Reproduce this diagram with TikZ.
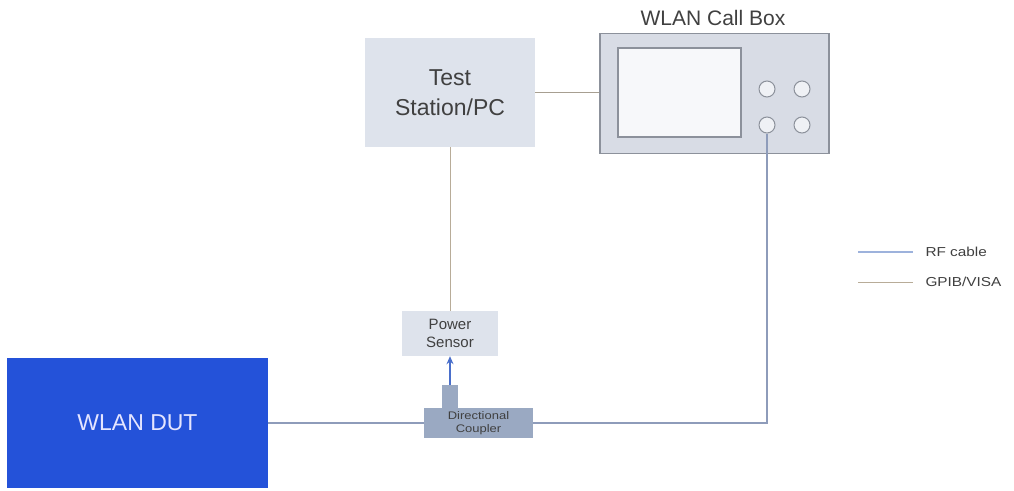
\documentclass[tikz,border=0pt]{standalone}
\usepackage{fontspec}
\setmainfont{Liberation Sans}
\newfontfamily\widefont[FakeStretch=1.18]{Liberation Sans}
\usetikzlibrary{arrows.meta}
\definecolor{boxfill}{HTML}{DEE3EC}
\definecolor{callfill}{HTML}{D8DCE5}
\definecolor{callline}{HTML}{8C919B}
\definecolor{dutblue}{HTML}{2452D9}
\definecolor{rfblue}{HTML}{8E9CBA}
\definecolor{rflegend}{HTML}{9DB2DC}
\definecolor{arrowblue}{HTML}{4A6FCB}
\definecolor{gpib}{HTML}{B8AC98}
\definecolor{coupler}{HTML}{9AA9C2}
\definecolor{txt}{HTML}{404040}
\tikzset{
  lbox/.style={fill=boxfill, draw=none, inner sep=0pt, text=txt, align=center},
  rf/.style={draw=rfblue, line width=1.1pt},
  gp/.style={draw=gpib, line width=1pt},
}
\begin{document}
\begin{tikzpicture}[x=1pt,y=-1pt]
\useasboundingbox (0,0) rectangle (1014,490);
% call box
\node[text=txt, font=\fontsize{21}{24}\selectfont] (title) at (713,18) {WLAN Call Box};
\node[draw=callline, fill=callfill, line width=1.2pt, minimum width=229pt, minimum height=120pt, inner sep=0pt] (call) at (714.5,93.5) {};
\node[draw=callline, fill=white!80!callfill, line width=1.2pt, minimum width=123pt, minimum height=89pt, inner sep=0pt] (screen) at (679.5,92.5) {};
\foreach \n/\x/\y in {k1/767/89,k2/802/89,k3/767/125,k4/802/125}
  \node[circle, draw=callline, fill=white!60!callfill, line width=1pt, minimum size=16pt, inner sep=0pt] (\n) at (\x,\y) {};
% test station
\node[lbox, minimum width=170pt, minimum height=109pt, font=\fontsize{23}{30}\selectfont] (pc) at (450,92.5) {Test\\Station/PC};
% power sensor
\node[lbox, minimum width=96pt, minimum height=45pt, font=\fontsize{15}{18}\selectfont] (ps) at (450,333.5) {Power\\Sensor};
% coupler
\node[fill=coupler, inner sep=0pt, minimum width=16pt, minimum height=23pt] (stub) at (450,396.5) {};
\node[fill=coupler, inner sep=0pt, minimum width=109pt, minimum height=30pt, text=txt, align=center, font=\widefont\fontsize{11}{13}\selectfont] (dc) at (478.5,423) {Directional\\Coupler};
% DUT
\node[fill=dutblue, inner sep=0pt, minimum width=261pt, minimum height=130pt, text=white!90!blue, font=\fontsize{23}{27}\selectfont] (dut) at (137.5,423) {WLAN DUT};
% connectors
\draw[gp, draw=gpib!70!gray] (pc.east) -- (call.west |- pc.east);
\draw[gp] (pc.south) -- (ps.north);
\draw[rf] (dut.east) -- (dc.west);
\draw[rf] (dc.east) -| (k3.south);
\draw[draw=arrowblue, line width=1.2pt, -{Stealth[length=8pt,width=7pt]}] (stub.north) -- (ps.south);
% legend
\coordinate (l1a) at (858,252); \coordinate (l1b) at (913,252);
\coordinate (l2a) at (858,282); \coordinate (l2b) at (913,282);
\draw[draw=rflegend, line width=1.1pt] (l1a) -- (l1b);
\draw[gp] (l2a) -- (l2b);
\node[anchor=west, text=txt, font=\widefont\fontsize{13}{15}\selectfont] (lrf) at (922,252) {RF cable};
\node[anchor=west, text=txt, font=\widefont\fontsize{13}{15}\selectfont] (lgp) at (922,282) {GPIB/VISA};
\end{tikzpicture}
\end{document}
